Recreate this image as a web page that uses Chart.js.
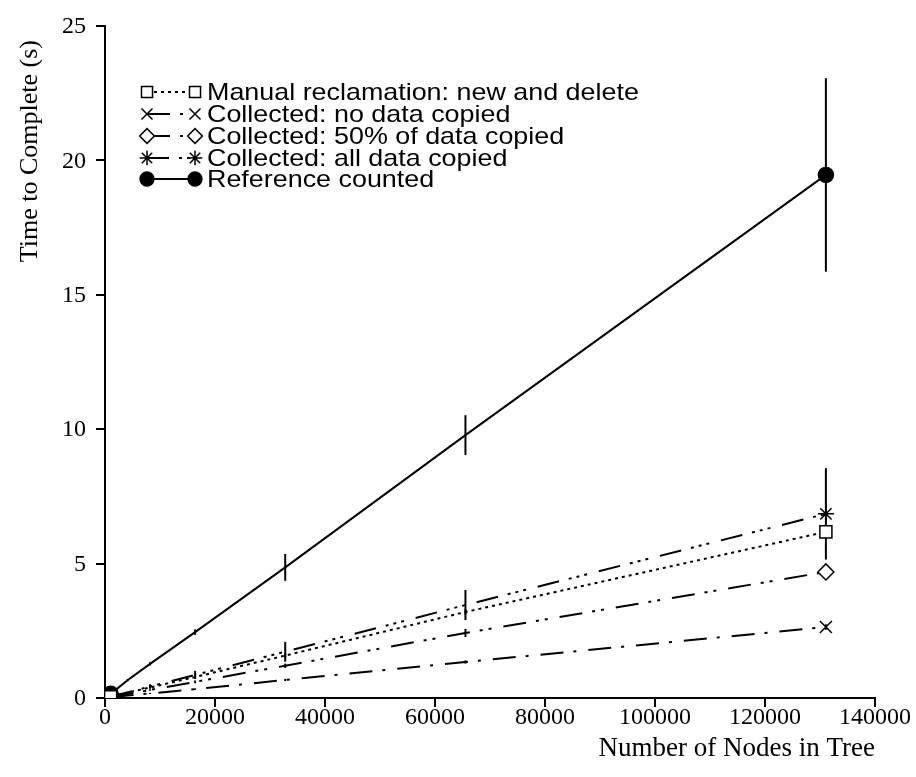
<!DOCTYPE html>
<html>
<head>
<meta charset="utf-8">
<script src="https://cdn.jsdelivr.net/npm/chart.js@4/dist/chart.umd.min.js"></script>
<style>
  html, body { margin: 0; padding: 0; background: #fff; }
  #wrap { width: 916px; height: 777px; position: relative; }
</style>
</head>
<body>
<div id="wrap"><canvas id="c"></canvas></div>
<script>
// ── DATA ─────────────────────────────────────────────
var xNodes   = [1024, 2048, 4096, 8192, 16384, 32768, 65536, 131072];
var xTicks   = [0, 20000, 40000, 60000, 80000, 100000, 120000, 140000];
var yTicks   = [0, 5, 10, 15, 20, 25];

var seriesLabels = [
  'Manual reclamation: new and delete',
  'Collected: no data copied',
  'Collected: 50% of data copied',
  'Collected: all data copied',
  'Reference counted'
];

var manualY   = [0.05, 0.10, 0.20, 0.39, 0.78, 1.58, 3.20, 6.18];
var noCopyY   = [0.03, 0.05, 0.09, 0.17, 0.33, 0.67, 1.34, 2.64];
var halfCopyY = [0.04, 0.08, 0.15, 0.30, 0.60, 1.20, 2.42, 4.69];
var allCopyY  = [0.05, 0.11, 0.21, 0.43, 0.86, 1.72, 3.46, 6.85];
var refY      = [0.16, 0.32, 0.66, 1.27, 2.45, 4.86, 9.78, 19.46];

var manualErr   = [0.01, 0.01, 0.02, 0.03, 0.05, 0.08, 0.10, 0.15];
var noCopyErr   = [0.01, 0.01, 0.01, 0.02, 0.03, 0.04, 0.06, 0.10];
var halfCopyErr = [0.01, 0.01, 0.02, 0.03, 0.05, 0.08, 0.15, 0.30];
var allCopyErr  = [0.01, 0.02, 0.03, 0.08, 0.15, 0.37, 0.56, 1.70];
var refErr      = [0.01, 0.02, 0.04, 0.06, 0.10, 0.50, 0.74, 3.60];

// ── HELPERS ──────────────────────────────────────────
function pts(ys) { return xNodes.map(function (x, i) { return { x: x, y: ys[i] }; }); }
function endsOnly(r) {
  return function (ctx) {
    return (ctx.dataIndex === 0 || ctx.dataIndex === xNodes.length - 1) ? r : 0;
  };
}
var SERIF = "'Liberation Serif', 'DejaVu Serif', serif";
var SANS  = "'Liberation Sans', Arial, sans-serif";

var styles = [
  { dash: [3, 4],                        style: 'rect',     r: 8.5, fill: '#fff' },
  { dash: [23, 10, 3, 12],               style: 'crossRot', r: 8.5, fill: '#fff' },
  { dash: [23, 10, 3, 6, 3, 12],         style: 'rectRot',  r: 8,   fill: '#fff' },
  { dash: [22, 10, 3, 5, 3, 5, 3, 12],   style: 'star',     r: 8,   fill: '#fff' },
  { dash: [],                            style: 'circle',   r: 7.5, fill: '#000' }
];
var allY   = [manualY, noCopyY, halfCopyY, allCopyY, refY];
var allErr = [manualErr, noCopyErr, halfCopyErr, allCopyErr, refErr];

var datasets = allY.map(function (ys, i) {
  var s = styles[i];
  return {
    label: seriesLabels[i],
    data: pts(ys),
    errors: allErr[i],
    borderColor: '#000',
    borderWidth: 2,
    borderDash: s.dash,
    pointStyle: s.style,
    pointRadius: endsOnly(s.r),
    pointHoverRadius: endsOnly(s.r),
    pointBorderWidth: 1.5,
    pointBorderColor: '#000',
    pointBackgroundColor: s.fill,
    fill: false,
    tension: 0
  };
});

// ── PLUGIN: error bars, tick labels, titles, legend ───
var decor = {
  id: 'decor',
  beforeDatasetsDraw: function (chart) {
    var ctx = chart.ctx, xs = chart.scales.x, ys = chart.scales.y;
    ctx.save();
    ctx.strokeStyle = '#000';
    ctx.lineWidth = 2;
    chart.data.datasets.forEach(function (ds) {
      ds.data.forEach(function (p, i) {
        var e = ds.errors[i];
        var px = xs.getPixelForValue(p.x);
        ctx.beginPath();
        ctx.moveTo(px, ys.getPixelForValue(p.y - e));
        ctx.lineTo(px, ys.getPixelForValue(p.y + e));
        ctx.stroke();
      });
    });
    ctx.restore();
  },
  afterDraw: function (chart) {
    var ctx = chart.ctx, xs = chart.scales.x, ys = chart.scales.y;
    var area = chart.chartArea;
    ctx.save();
    ctx.fillStyle = '#000';
    ctx.textBaseline = 'middle';

    // tick labels
    ctx.font = '24px ' + SERIF;
    ctx.textAlign = 'right';
    yTicks.forEach(function (v) {
      ctx.fillText(String(v), area.left - 19, ys.getPixelForValue(v) + 1);
    });
    ctx.textAlign = 'center';
    xTicks.forEach(function (v) {
      ctx.fillText(String(v), xs.getPixelForValue(v), area.bottom + 20);
    });

    // axis titles
    ctx.font = '27px ' + SERIF;
    ctx.textAlign = 'right';
    ctx.fillText('Number of Nodes in Tree', area.right, area.bottom + 51);
    ctx.save();
    ctx.translate(30, 40);
    ctx.rotate(-Math.PI / 2);
    ctx.font = '26px ' + SERIF;
    ctx.textAlign = 'right';
    ctx.fillText('Time to Complete (s)', 0, 0);
    ctx.restore();

    // legend
    var x0 = 147, x1 = 195, tx = 207;
    var rowY = [92, 114, 136, 158, 179];
    chart.data.datasets.forEach(function (ds, i) {
      var y = rowY[i], s = styles[i];
      ctx.save();
      ctx.strokeStyle = '#000';
      ctx.lineWidth = 2;
      ctx.setLineDash(s.dash);
      ctx.beginPath();
      ctx.moveTo(x0, y);
      ctx.lineTo(x1, y);
      ctx.stroke();
      ctx.setLineDash([]);
      ctx.lineWidth = 1.5;
      ctx.fillStyle = s.fill;
      ctx.strokeStyle = '#000';
      if (Chart.helpers && Chart.helpers.drawPoint) {
        [x0, x1].forEach(function (px) {
          Chart.helpers.drawPoint(ctx, { pointStyle: s.style, radius: s.r * 0.92, rotation: 0, borderWidth: 1.5 }, px, y);
        });
      }
      ctx.restore();
      // legend text is a little wider than its height suggests
      ctx.save();
      ctx.fillStyle = '#000';
      ctx.font = '24px ' + SANS;
      ctx.textAlign = 'left';
      ctx.translate(tx, y + 1);
      ctx.scale(1.12, 1);
      ctx.fillText(ds.label, 0, 0);
      ctx.restore();
    });
    ctx.restore();
  }
};

// ── CHART ────────────────────────────────────────────
new Chart(document.getElementById('c').getContext('2d'), {
  type: 'line',
  data: { datasets: datasets },
  plugins: [decor],
  options: {
    responsive: true,
    maintainAspectRatio: false,
    animation: false,
    events: [],
    layout: { padding: { top: 26, right: 41, left: 0, bottom: 0 } },
    plugins: { legend: { display: false }, tooltip: { enabled: false } },
    scales: {
      x: {
        type: 'linear',
        min: 0, max: 140000,
        afterBuildTicks: function (s) { s.ticks = xTicks.map(function (v) { return { value: v }; }); },
        afterFit: function (s) { s.height = 79; },
        ticks: { display: false },
        grid: { drawOnChartArea: false, drawTicks: true, tickLength: 9, color: '#000', lineWidth: 2 },
        border: { display: true, color: '#000', width: 2 }
      },
      y: {
        type: 'linear',
        min: 0, max: 25,
        afterBuildTicks: function (s) { s.ticks = yTicks.map(function (v) { return { value: v }; }); },
        afterFit: function (s) { s.width = 105; },
        ticks: { display: false },
        grid: { drawOnChartArea: false, drawTicks: true, tickLength: 9, color: '#000', lineWidth: 2 },
        border: { display: true, color: '#000', width: 2 }
      }
    }
  }
});
</script>
</body>
</html>
